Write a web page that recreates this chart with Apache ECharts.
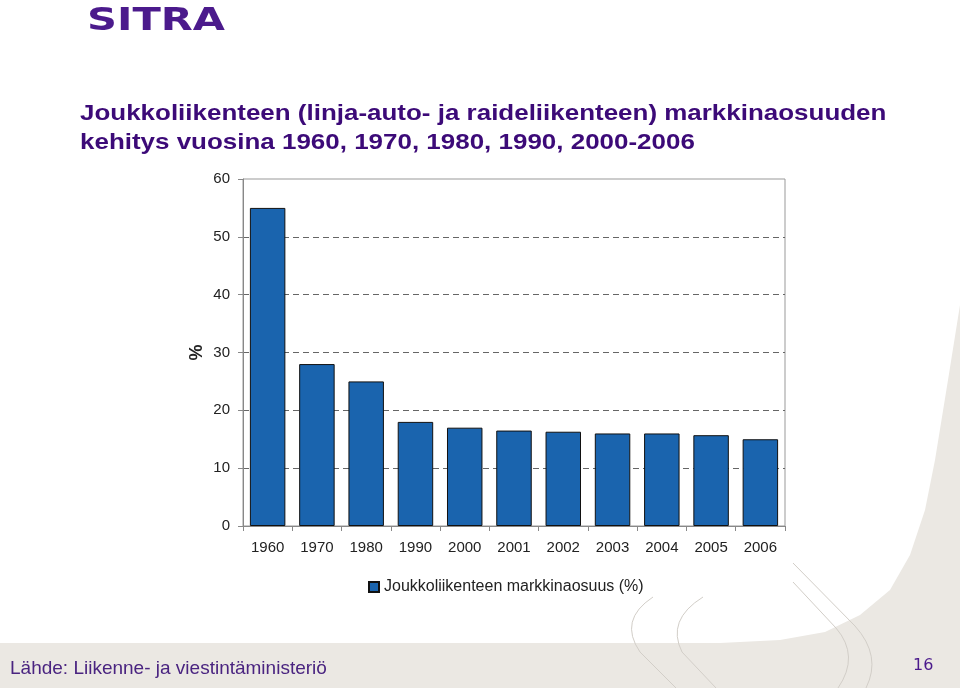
<!DOCTYPE html>
<html>
<head>
<meta charset="utf-8">
<script src="https://cdn.jsdelivr.net/npm/echarts@6/dist/echarts.min.js"></script>
<style>
  html, body { margin: 0; padding: 0; background: #fff; }
  #chart { width: 960px; height: 688px; }
</style>
</head>
<body>
<div id="chart"></div>
<script>
// years on the x axis
const years = ['1960', '1970', '1980', '1990', '2000', '2001', '2002', '2003', '2004', '2005', '2006'];
// market share of public transport, %
const share = [55, 28, 25, 18, 17, 16.5, 16.3, 16, 16, 15.7, 15];
const seriesName = 'Joukkoliikenteen markkinaosuus (%)';

const titleLines = [
  'Joukkoliikenteen (linja-auto- ja raideliikenteen) markkinaosuuden',
  'kehitys vuosina 1960, 1970, 1980, 1990, 2000-2006'
];

const myChart = echarts.init(document.getElementById('chart'));

const deco = { fill: null, stroke: '#d2cec8', lineWidth: 1 };

let option = {
  backgroundColor: '#fff',
  animation: false,
  textStyle: { fontFamily: 'Liberation Sans, Arial, sans-serif' },
  graphic: [
    // footer band and the beige shape on the right
    { type: 'rect', z: -10, shape: { x: 0, y: 643, width: 960, height: 45 }, style: { fill: '#ebe8e3' } },
    { type: 'polygon', z: -10, shape: { points: [[960, 305], [948, 380], [935, 460], [925, 510], [910, 555], [890, 590], [860, 615], [825, 632], [780, 640], [700, 644], [960, 644]] }, style: { fill: '#ebe8e3' } },
    // thin decorative strokes
    { type: 'bezierCurve', z: -9, shape: { x1: 653, y1: 597, cpx1: 618, cpy1: 620, x2: 640, y2: 652 }, style: deco },
    { type: 'line', z: -9, shape: { x1: 640, y1: 652, x2: 676, y2: 688 }, style: deco },
    { type: 'bezierCurve', z: -9, shape: { x1: 703, y1: 597, cpx1: 666, cpy1: 620, x2: 682, y2: 652 }, style: deco },
    { type: 'line', z: -9, shape: { x1: 682, y1: 652, x2: 716, y2: 688 }, style: deco },
    { type: 'line', z: -9, shape: { x1: 793, y1: 563, x2: 855, y2: 626 }, style: deco },
    { type: 'bezierCurve', z: -9, shape: { x1: 855, y1: 626, cpx1: 882, cpy1: 656, x2: 866, y2: 688 }, style: deco },
    { type: 'line', z: -9, shape: { x1: 793, y1: 582, x2: 836, y2: 628 }, style: deco },
    { type: 'bezierCurve', z: -9, shape: { x1: 836, y1: 628, cpx1: 860, cpy1: 656, x2: 838, y2: 688 }, style: deco },
    // logo, stretched to the wide letterforms of the original
    { type: 'text', x: 87, y: 6, scaleX: 1.3, style: { text: 'SITRA', fill: '#4b1a8c', font: 'bold 32px "DejaVu Sans", sans-serif' } },
    // title (the original is letter-spaced, so stretch it a little)
    { type: 'text', x: 80, y: 99, scaleX: 1.18, style: { text: titleLines.join('\n'), fill: '#3c0a78', font: 'bold 22px "Liberation Sans", Arial, sans-serif', lineHeight: 29 } },
    // source and page number
    { type: 'text', x: 10, y: 659, style: { text: 'Lähde: Liikenne- ja viestintäministeriö', fill: '#4a2480', font: '19px "Liberation Sans", Arial, sans-serif' } },
    { type: 'text', x: 913, y: 658, style: { text: '16', fill: '#4b1a8c', font: '16px "DejaVu Sans", sans-serif' } }
  ],
  legend: {
    data: [seriesName],
    icon: 'rect',
    left: 363,
    top: 574,
    itemWidth: 10,
    itemHeight: 10,
    itemGap: 4,
    textStyle: { fontSize: 16, color: '#222' }
  },
  grid: {
    left: 243,
    right: 175,
    top: 179,
    bottom: 162,
    show: true,
    borderColor: '#999',
    borderWidth: 1
  },
  xAxis: {
    type: 'category',
    data: years,
    axisLine: { lineStyle: { color: '#888' } },
    axisTick: { show: true, length: 5, lineStyle: { color: '#888' } },
    axisLabel: { fontSize: 15, color: '#222', margin: 14 }
  },
  yAxis: {
    type: 'value',
    min: 0,
    max: 60,
    interval: 10,
    name: '%',
    nameLocation: 'middle',
    nameRotate: 90,
    nameGap: 37,
    nameMoveOverlap: false,
    nameTextStyle: { fontSize: 18, fontWeight: 'bold', color: '#222' },
    axisLine: { show: true, lineStyle: { color: '#888' } },
    axisTick: { show: true, length: 5, lineStyle: { color: '#888' } },
    axisLabel: { fontSize: 15, color: '#222', margin: 13 },
    splitLine: { showMaxLine: false, lineStyle: { color: '#666', type: [6, 4], width: 1 } }
  },
  series: [
    {
      name: seriesName,
      type: 'bar',
      data: share,
      barCategoryGap: '28%',
      itemStyle: { color: '#1a64ae', borderColor: '#111', borderWidth: 1 }
    }
  ]
};

myChart.setOption(option);
</script>
</body>
</html>
